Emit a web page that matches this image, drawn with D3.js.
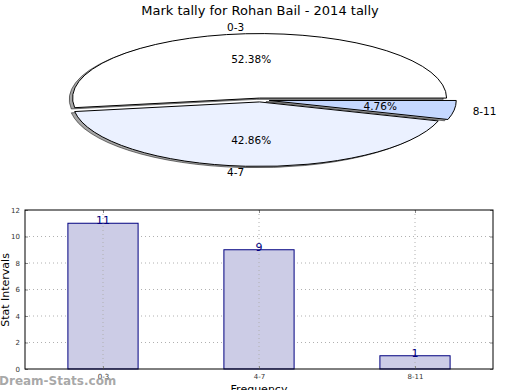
<!DOCTYPE html>
<html><head><meta charset="utf-8">
<script src="https://cdn.jsdelivr.net/npm/d3@7"></script>
<style>body{margin:0;background:#fff;} svg{display:block;font-family:"DejaVu Sans",sans-serif;}</style>
</head><body>
<svg id="c" width="520" height="390"></svg>
<script>
const title = "Mark tally for Rohan Bail - 2014 tally";
const categories = ["0-3", "4-7", "8-11"];
const values = [11, 9, 1];
const pieColors = ["#ffffff", "#ebf1ff", "#c5d8ff"];
const explode = [0.03, 0.03, 0.05];
const yTicks = [0, 2, 4, 6, 8, 10, 12];

const svg = d3.select("#c");
svg.append("rect").attr("width",520).attr("height",390).attr("fill","#fff");
svg.append("text").attr("x",260).attr("y",15).attr("text-anchor","middle")
  .attr("font-size",13).attr("fill","#000").text(title);

// ---- Pie (matplotlib-style: start at 3 o'clock, counterclockwise) ----
const cx = 260, cy = 100, rx = 187, ry = 64.5, k = ry/rx;
const pie = d3.pie().sort(null).startAngle(Math.PI/2).endAngle(Math.PI/2 - 2*Math.PI);
const arcs = pie(values);
const arc = d3.arc().innerRadius(0).outerRadius(rx);
const total = d3.sum(values);
const pg = svg.append("g").attr("transform", `translate(${cx},${cy}) scale(1,${k})`);
function off(d,i){
  const m = (d.startAngle + d.endAngle)/2;
  return [Math.sin(m)*explode[i]*rx, -Math.cos(m)*explode[i]*rx];
}
// shadows
arcs.forEach((d,i)=>{
  const [ox,oy] = off(d,i);
  pg.append("path").attr("d", arc(d))
    .attr("transform", `translate(${ox - 0.018*rx},${oy + 0.02*rx})`)
    .attr("fill", "#4d4d4d").attr("fill-opacity", 0.5)
    .attr("stroke","#000").attr("stroke-opacity",0.5).attr("stroke-width",1)
    .attr("vector-effect","non-scaling-stroke");
});
arcs.forEach((d,i)=>{
  const [ox,oy] = off(d,i);
  pg.append("path").attr("d", arc(d))
    .attr("transform", `translate(${ox},${oy})`)
    .attr("fill", pieColors[i]).attr("stroke","#000").attr("stroke-width",1)
    .attr("vector-effect","non-scaling-stroke").attr("stroke-linejoin","round");
});
// labels
arcs.forEach((d,i)=>{
  const m = (d.startAngle + d.endAngle)/2;
  const ux = Math.sin(m), uy = Math.cos(m);
  const e = explode[i];
  const lx = cx + (e + 1.1)*rx*ux, ly = cy - (e + 1.1)*ry*uy;
  svg.append("text").attr("x",lx).attr("y",ly).attr("dy","0.35em")
    .attr("text-anchor", ux < 0 ? "end" : "start")
    .attr("font-size",10.5).attr("fill","#000").text(categories[i]);
  const px = cx + (e + 0.6)*rx*ux, py = cy - (e + 0.6)*ry*uy;
  svg.append("text").attr("x",px).attr("y",py).attr("dy","0.35em")
    .attr("text-anchor","middle").attr("font-size",10.5).attr("fill","#000")
    .text((values[i]/total*100).toFixed(2) + "%");
});

// ---- Bar chart ----
const L = 25, R = 493, T = 210, B = 369;
const x = d3.scaleLinear().domain([-0.5, 2.5]).range([L, R]);
const y = d3.scaleLinear().domain([0, 12]).range([B, T]);
const bw = 0.45;
const g = svg.append("g");
// grid
g.selectAll(".gy").data(yTicks.slice(1,-1)).enter().append("line")
  .attr("x1",L).attr("x2",R).attr("y1",d=>y(d)).attr("y2",d=>y(d))
  .attr("stroke","#b0b0b0").attr("stroke-width",1).attr("stroke-dasharray","1,3");
// bars
g.selectAll(".bar").data(values).enter().append("rect")
  .attr("x",(d,i)=>x(i-bw/2)).attr("width",x(bw)-x(0))
  .attr("y",d=>y(d)).attr("height",d=>y(0)-y(d))
  .attr("fill","#ccccE6").attr("stroke","#000080").attr("stroke-width",1);
// vertical grid
g.selectAll(".gx").data(categories).enter().append("line")
  .attr("x1",(d,i)=>x(i)).attr("x2",(d,i)=>x(i)).attr("y1",T).attr("y2",B)
  .attr("stroke","#b0b0b0").attr("stroke-width",1).attr("stroke-dasharray","1,3");
// value labels
g.selectAll(".vl").data(values).enter().append("text")
  .attr("x",(d,i)=>x(i)).attr("y",d=>y(d)+1).attr("text-anchor","middle")
  .attr("font-size",11).attr("fill","#000080").text(d=>d);
// axes
const yAxis = d3.axisLeft(y).tickValues(yTicks).tickSize(-3).tickPadding(5);
const ya = g.append("g").attr("transform",`translate(${L},0)`).call(yAxis);
const yr = g.append("g").attr("transform",`translate(${R},0)`).call(d3.axisRight(y).tickValues(yTicks).tickSize(-3).tickFormat(""));
const xAxis = d3.axisBottom(x).tickValues([0,1,2]).tickFormat((d)=>categories[d]).tickSize(-3).tickPadding(5);
const xa = g.append("g").attr("transform",`translate(0,${B})`).call(xAxis);
const xt = g.append("g").attr("transform",`translate(0,${T})`).call(d3.axisTop(x).tickValues([0,1,2]).tickSize(-3).tickFormat(""));
[ya,yr,xa,xt].forEach(a=>{ a.select(".domain").remove(); a.selectAll("line").attr("stroke","#888"); });
ya.selectAll("text").attr("font-size",7).attr("fill","#333").attr("font-family","DejaVu Sans");
xa.selectAll("text").attr("font-size",7).attr("fill","#333").attr("font-family","DejaVu Sans");
g.append("rect").attr("x",L).attr("y",T).attr("width",R-L).attr("height",B-T)
  .attr("fill","none").attr("stroke","#000").attr("stroke-width",1);
svg.append("text").attr("transform","translate(9,290) rotate(-90)").attr("text-anchor","middle")
  .attr("font-size",11).attr("fill","#000").text("Stat Intervals");
svg.append("text").attr("x",259).attr("y",393).attr("text-anchor","middle")
  .attr("font-size",11).attr("fill","#000").text("Frequency");
svg.append("text").attr("x",-1).attr("y",385).attr("font-size",12).attr("font-weight","bold")
  .attr("fill","#999").attr("fill-opacity",0.85).text("Dream-Stats.com");
</script>
</body></html>
